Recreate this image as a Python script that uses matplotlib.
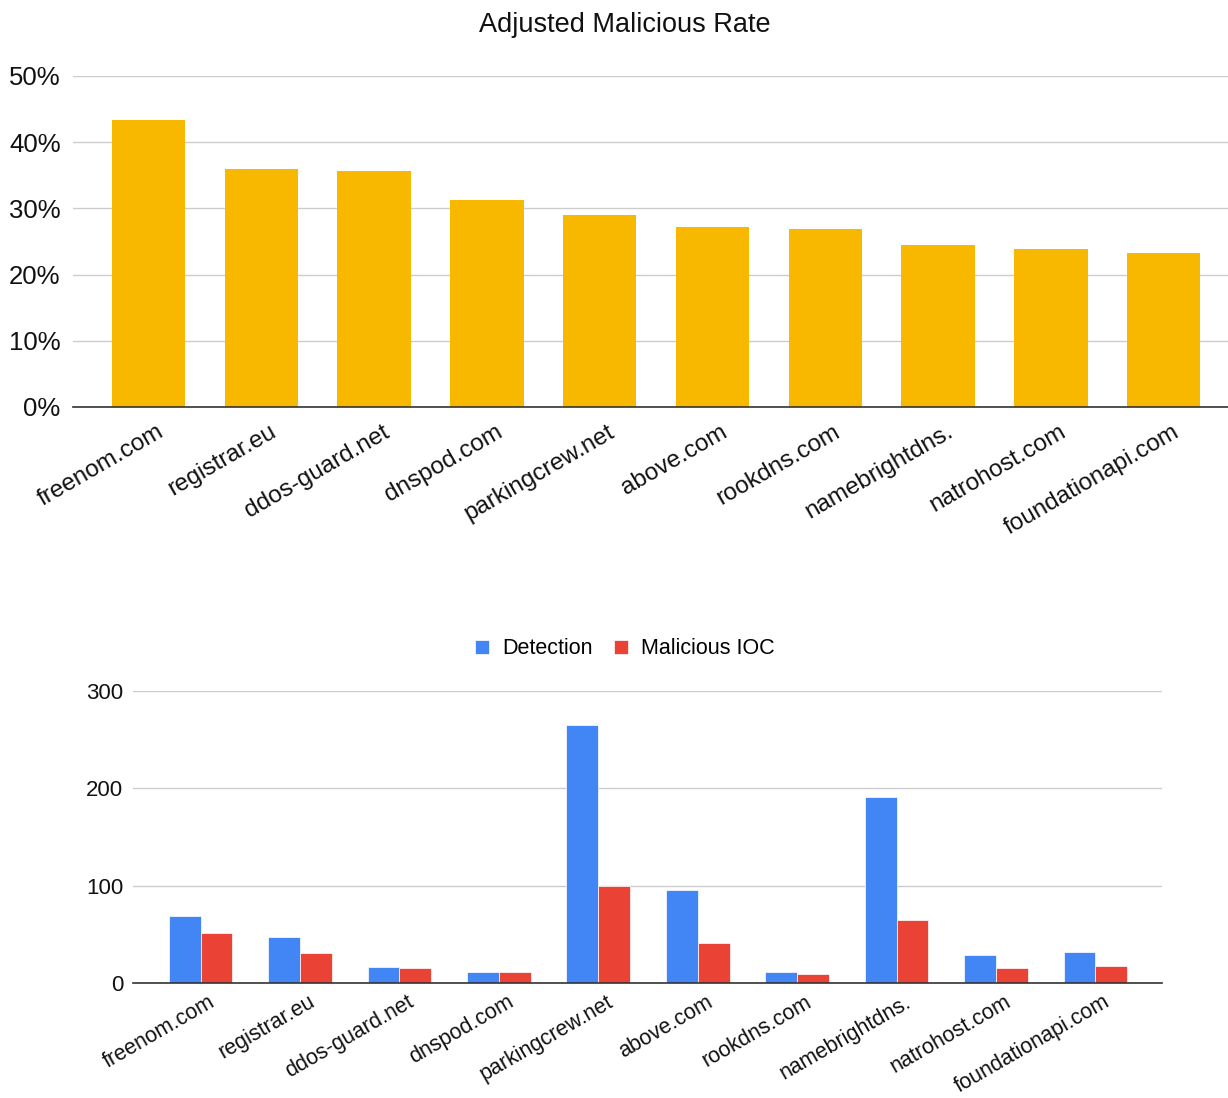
import matplotlib
matplotlib.use("Agg")
import matplotlib.pyplot as plt
import matplotlib.transforms as mtransforms
import numpy as np
from matplotlib.ticker import FuncFormatter

plt.rcParams['font.family'] = ['Liberation Sans', 'DejaVu Sans']

categories = ["freenom.com", "registrar.eu", "ddos-guard.net", "dnspod.com",
              "parkingcrew.net", "above.com", "rookdns.com", "namebrightdns.",
              "natrohost.com", "foundationapi.com"]
malicious_rate = [43.4, 36.0, 35.7, 31.3, 29.0, 27.2, 26.9, 24.5, 23.9, 23.3]
detection = [69, 47, 16, 11, 265, 95, 11, 191, 29, 32]
malicious_ioc = [51, 31, 15, 11, 100, 41, 9, 65, 15, 17]
rate_ticks = [0, 10, 20, 30, 40, 50]
count_ticks = [0, 100, 200, 300]

W, H = 1228, 1098
fig = plt.figure(figsize=(W / 100, H / 100), dpi=100)

# --- Top chart ---
ax1 = fig.add_axes([73 / W, 1 - 407 / H, (1228 - 73) / W, (407 - 76) / H])
x = np.arange(len(categories))
ax1.bar(x, malicious_rate, width=0.65, color="#F9B800", zorder=3)
ax1.set_ylim(0, 50)
ax1.set_xlim(-0.67, 9.57)
ax1.set_yticks(rate_ticks)
ax1.yaxis.set_major_formatter(FuncFormatter(lambda v, p: f"{int(v)}%"))
ax1.grid(axis="y", color="#cccccc", linewidth=1, zorder=0)
for s in ["top", "right", "left"]:
    ax1.spines[s].set_visible(False)
ax1.spines["bottom"].set_color("#333333")
ax1.spines["bottom"].set_linewidth(1.2)
ax1.spines["bottom"].set_zorder(4)
ax1.tick_params(axis="y", length=0, labelsize=18.5, pad=9, labelcolor="#111111")
ax1.tick_params(axis="x", length=0, labelsize=17.5, pad=10, labelcolor="#111111")
ax1.set_xticks(x)
ax1.set_xticklabels(categories, rotation=30, ha="right", rotation_mode="anchor")
off1 = mtransforms.ScaledTranslation(8 / 100, 0, fig.dpi_scale_trans)
for lbl in ax1.get_xticklabels():
    lbl.set_transform(lbl.get_transform() + off1)
fig.text(625 / W, 1 - 25 / H, "Adjusted Malicious Rate", ha="center", va="center",
         fontsize=19.5, color="#111111")

# --- Bottom chart ---
ax2 = fig.add_axes([133 / W, 1 - 983 / H, (1162 - 133) / W, (983 - 690.7) / H])
bw = 0.32
ax2.bar(x - bw / 2, detection, width=bw, color="#4285F4", zorder=3,
        edgecolor="white", linewidth=0.5, label="Detection")
ax2.bar(x + bw / 2, malicious_ioc, width=bw, color="#EA4335", zorder=3,
        edgecolor="white", linewidth=0.5, label="Malicious IOC")
ax2.set_ylim(0, 300)
ax2.set_xlim(-0.68, 9.67)
ax2.set_yticks(count_ticks)
ax2.grid(axis="y", color="#cccccc", linewidth=1, zorder=0)
for s in ["top", "right", "left"]:
    ax2.spines[s].set_visible(False)
ax2.spines["bottom"].set_color("#333333")
ax2.spines["bottom"].set_linewidth(1.2)
ax2.spines["bottom"].set_zorder(4)
ax2.tick_params(axis="y", length=0, labelsize=16, pad=7, labelcolor="#111111")
ax2.tick_params(axis="x", length=0, labelsize=15.5, pad=6, labelcolor="#111111")
ax2.set_xticks(x)
ax2.set_xticklabels(categories, rotation=30, ha="right", rotation_mode="anchor")
off2 = mtransforms.ScaledTranslation(8 / 100, 0, fig.dpi_scale_trans)
for lbl in ax2.get_xticklabels():
    lbl.set_transform(lbl.get_transform() + off2)
leg = fig.legend(loc="center", bbox_to_anchor=(625 / W, 1 - 649 / H), ncol=2,
                 frameon=False, fontsize=15.5, handlelength=0.65, handleheight=0.65,
                 handletextpad=0.6, columnspacing=1.0)

fig.savefig("out.png", dpi=100)
